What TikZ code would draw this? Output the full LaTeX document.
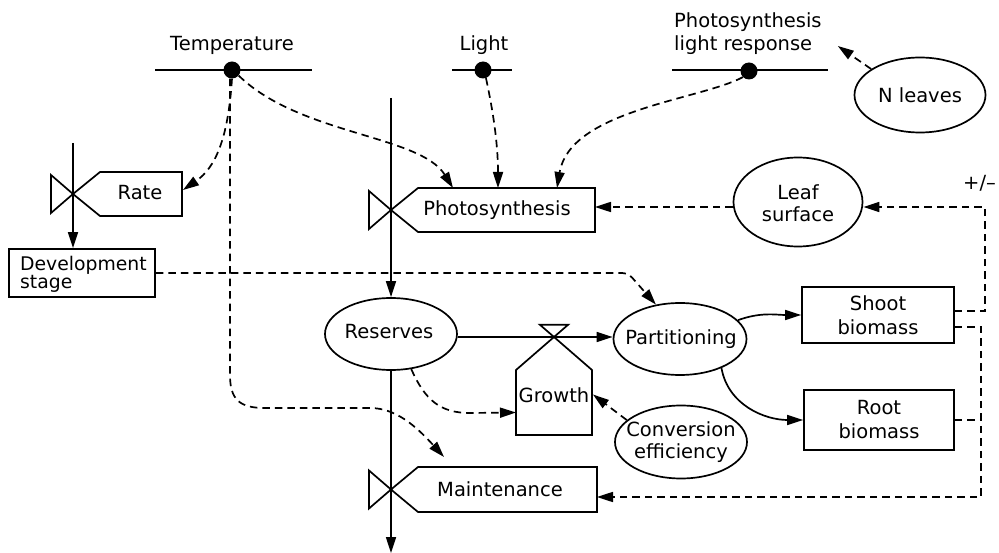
\documentclass[tikz,border=0pt]{standalone}
\usepackage{fontspec}
\setmainfont{DejaVu Sans}
\usetikzlibrary{arrows.meta,shapes.geometric,calc}
\newcommand\vbxshape[1]{%
  \draw[ln,line join=miter] (#1.west) -- ([xshift=27pt]#1.north west) -- (#1.north east) -- (#1.south east) -- ([xshift=27pt]#1.south west) -- cycle;
  \draw[ln,line join=miter] (#1.west) -- ++(-22,-19) -- ++(0,38) -- cycle;}
\begin{document}
\begin{tikzpicture}[x=1pt,y=-1pt,
  every node/.style={font=\fontsize{19.5}{22}\selectfont, inner sep=0pt},
  ln/.style={line width=1.7pt},
  dsh/.style={line width=1.7pt, dash pattern=on 7.5pt off 5pt},
  tip/.style={-{Triangle[length=16pt,width=10pt]}},
  ell/.style={ellipse, draw, line width=1.7pt},
  frame/.style={inner sep=0pt, outer sep=0pt},
  dot/.style={circle, fill, minimum size=17pt},
  rbox/.style={draw, line width=1.7pt, align=center},
]
\useasboundingbox (0,0) rectangle (999,553);
\fill[white] (0,0) rectangle (999,553);

% top inputs
\node (temp) at (232,45) {Temperature};
\draw[ln] (155,70) -- (312,70);
\node[dot] (tdot) at (232,70) {};
\node (light) at (484,45) {Light};
\draw[ln] (452,70) -- (512,70);
\node[dot] (ldot) at (483,70) {};
\node[align=left, anchor=west, font=\fontsize{19.5}{23}\selectfont] (plr) at (674,34) {Photosynthesis\\light response};
\draw[ln] (672,70) -- (828,70);
\node[dot] (pdot) at (749,71) {};

% ellipses
\node[ell, minimum width=131pt, minimum height=75pt] (nleaves) at (920,95) {};
\node at (nleaves) {N leaves};
\node[ell, minimum width=129pt, minimum height=89pt] (leaf) at (798,202) {};
\node[align=center] at (798,203) {Leaf\\surface};
\node[ell, minimum width=132pt, minimum height=72pt] (reserves) at (391,334) {};
\node at (389,332) {Reserves};
\node[ell, minimum width=133pt, minimum height=72pt] (part) at (680,339) {};
\node at (681,339) {Partitioning};
\node[ell, minimum width=132pt, minimum height=73pt] (conv) at (681,442) {};
\node[align=center] at (681,442) {Conversion\\efficiency};

% boxes
\node[rbox, minimum width=152pt, minimum height=56pt, font=\fontsize{19.5}{24}\selectfont] (shoot) at (878,315) {Shoot\\biomass};
\node[rbox, minimum width=150pt, minimum height=60pt, font=\fontsize{19.5}{24}\selectfont] (root) at (879,420) {Root\\biomass};
\node[rbox, minimum width=146pt, minimum height=48pt] (dev) at (82,273) {};
\node[align=left, anchor=west, font=\fontsize{18.8}{16}\selectfont] at (20,274) {Development\\stage};

% valve boxes
\node[frame, minimum width=109pt, minimum height=44pt] (ratebox) at (127.5,194) {};
\node[frame, minimum width=204pt, minimum height=44pt] (photobox) at (493,210) {};
\node[frame, minimum width=206pt, minimum height=45pt] (mbox) at (494,489.5) {};
\vbxshape{ratebox}
\vbxshape{photobox}
\vbxshape{mbox}
\node at (140,193) {Rate};
\node at (497,210) {Photosynthesis};
\node at (500,489) {Maintenance};

% growth
\coordinate (gv) at (554,337);
\node[frame, minimum width=76pt, minimum height=65pt] (growth) at (554,402.5) {};
\draw[ln,line join=miter] (growth.north west) -- (gv) -- (growth.north east) -- (growth.south east) -- (growth.south west) -- cycle;
\draw[ln,line join=miter] (gv) -- ($(gv)!-0.37!(growth.north west)$) -- ($(gv)!-0.37!(growth.north east)$) -- cycle;
\node at (554,395) {Growth};

% material flows
\coordinate (rsrc) at (73,143);
\draw[ln,tip] (rsrc) -- (rsrc |- dev.north);
\coordinate (psrc) at (391,98);
\draw[ln,tip] (psrc) -- (reserves.north);
\coordinate (sink) at (391,553);
\draw[ln,tip] (reserves.south) -- (sink);
\draw[ln,tip] (reserves.east |- gv) -- (gv -| part.west);
\draw[ln,tip] (part.18) to[out=20,in=180] (shoot.west);
\draw[ln,tip] (part.-35) to[out=-80,in=180] (root.west);

% information flows
\draw[dsh,tip] (tdot.south) .. controls (228,140) and (215,168) .. ($(ratebox.east)+(1,-4)$);
\draw[dsh,tip] (tdot.-40) .. controls (300,135) and (420,135) .. ($(photobox.north)+(-40,0)$);
\draw[dsh,tip] (ldot.-70) .. controls (495,120) and (498,150) .. ($(photobox.north)+(5,0)$);
\draw[dsh,tip] (pdot.-135) .. controls (700,100) and (570,110) .. ($(photobox.north)+(64,0)$);
\draw[dsh,tip] (nleaves.152) -- ($(plr.east)+(16,12)$);
\coordinate (lw) at ($(leaf.west)+(0,5)$);
\draw[dsh,tip] (lw) -- (lw -| photobox.east);

\coordinate (c1) at (985,207);
\draw[dsh,tip] ($(shoot.east)+(0,-4)$) -| (c1) -- (c1 -| leaf.east);
\node[anchor=west] (pm) at (963,183) {+/–};
\coordinate (c2) at (981,497);
\draw[dsh,tip] ($(shoot.east)+(0,12)$) -| (c2) -- (c2 -| mbox.east);
\draw[dsh] (root.east) -- (root.east -| c2);

\coordinate (c3) at (628,273);
\draw[dsh,tip,rounded corners=6pt] (dev.east) -- (c3) -- (part.125);

\coordinate (tdv) at (230,375);
\draw[dsh,tip] (tdot.south -| tdv) -- (tdv) .. controls (230,400) and (240,408) .. (265,408) -- (370,408) .. controls (395,408) and (415,425) .. ($(mbox.north)+(-50,-10)$);

\draw[dsh,tip] (reserves.-60) .. controls (425,400) and (440,413) .. (470,413) -- ($(growth.west)+(0,10)$);
\draw[dsh,tip] (conv.158) -- ($(growth.east)+(1,-8)$);
\end{tikzpicture}
\end{document}
